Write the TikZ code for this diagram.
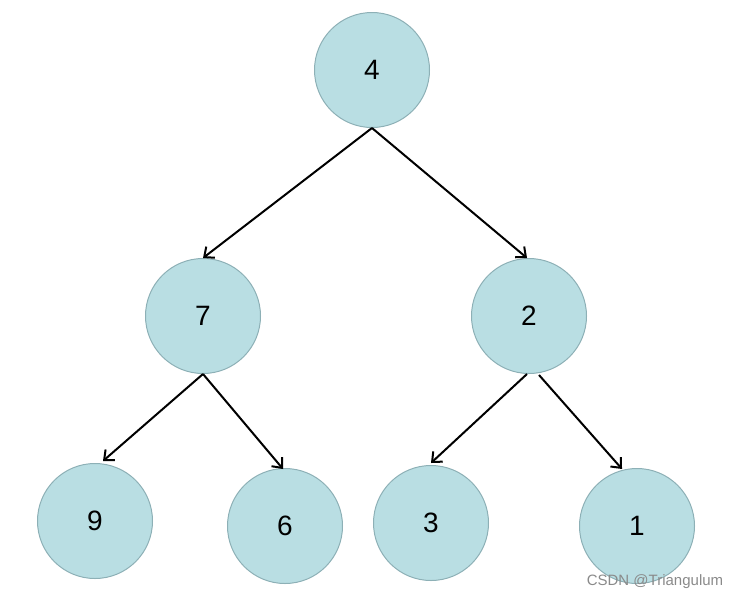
\documentclass[tikz,border=0pt]{standalone}
\usepackage{fontspec}
\setmainfont{Liberation Sans}
\usetikzlibrary{arrows.meta}
\definecolor{nodefill}{HTML}{B9DEE3}
\definecolor{nodeline}{HTML}{8DB0B6}
\definecolor{wmark}{HTML}{8A8A8A}
\begin{document}
\begin{tikzpicture}[x=1pt,y=-1pt,
  treenode/.style={circle,draw=nodeline,line width=1pt,fill=nodefill,minimum size=115pt,inner sep=0pt,font=\fontsize{28}{30}\selectfont},
  edge/.style={draw=black,line width=2pt,-{Straight Barb[length=8pt,width=14pt,line width=2pt]}}]
\useasboundingbox (0,0) rectangle (739,600);
\node[treenode] (n4) at (372,70) {4};
\node[treenode] (n7) at (203,316) {7};
\node[treenode] (n2) at (529,316) {2};
\node[treenode] (n9) at (95,521) {9};
\node[treenode] (n6) at (285,526) {6};
\node[treenode] (n3) at (431,523) {3};
\node[treenode] (n1) at (637,526) {1};
\node[font=\fontsize{15}{17}\selectfont,text=wmark] (wm) at (655,582) {CSDN @Triangulum};
\draw[edge] (n4.south) -- (n7.north);
\draw[edge] (n4.south) -- ([xshift=-2pt]n2.north);
\draw[edge] (n7.south) -- ([xshift=8pt,yshift=2pt]n9.north);
\draw[edge] (n7.south) -- ([xshift=-2pt,yshift=-1pt]n6.north);
\draw[edge] ([xshift=-2pt]n2.south) -- ([yshift=2pt]n3.north);
\draw[edge] ([xshift=10pt,yshift=-1pt]n2.south) -- ([xshift=-15pt,yshift=-1pt]n1.north);
\end{tikzpicture}
\end{document}
